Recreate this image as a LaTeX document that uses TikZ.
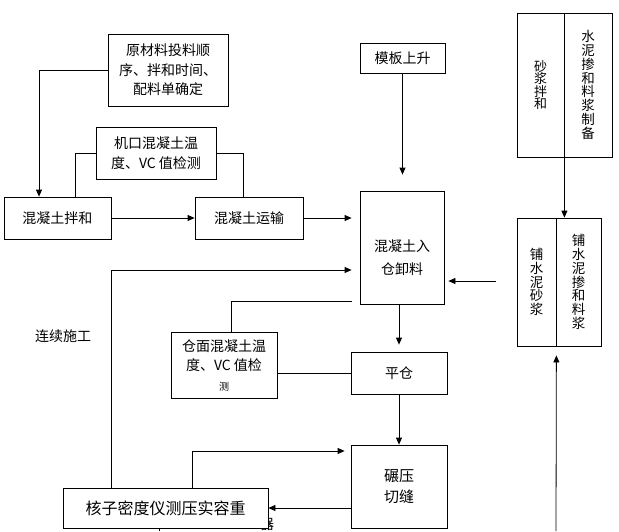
\documentclass[tikz,border=0pt]{standalone}
\usepackage{fontspec}
\setmainfont{Noto Sans CJK SC}
\usetikzlibrary{arrows.meta}

\begin{document}
\begin{tikzpicture}[x=1pt,y=-1pt,line width=0.8pt,>={Triangle[length=7pt,width=6pt]},font=\fontsize{14}{19.5}\selectfont]
    \tikzstyle{box}=[draw,fill=white,rectangle,inner sep=0pt,align=center]
    \tikzstyle{vbox}=[box,font=\fontsize{13.5}{13.75}\selectfont]
    \tikzstyle{annot}=[align=center]

    \useasboundingbox (0,0) rectangle (619,531);

    % Loose text (the cut-off one sits under the density box)
    \node[annot] (cont) at (63,336) {连续施工};
    \node[annot] (frag) at (267,524) {器};

    % Mixing and transport
    \node[box,minimum width=120pt,minimum height=72pt] (raw) at (168,70) {原材料投料顺\\序、拌和时间、\\配料单确定};
    \node[box,minimum width=120pt,minimum height=52pt] (jikou) at (156,153) {机口混凝土温\\度、VC 值检测};
    \node[box,minimum width=107pt,minimum height=42pt] (mix) at (57.5,218) {混凝土拌和};
    \node[box,minimum width=108pt,minimum height=42pt] (trans) at (249,218) {混凝土运输};

    % Placing column
    \node[box,minimum width=85pt,minimum height=30pt] (mold) at (402.5,58) {模板上升};
    \node[box,minimum width=84pt,minimum height=113pt] (pour) at (402,247.5) {};
    \node[annot,font=\fontsize{14}{23}\selectfont] (pourtxt) at (402,258) {混凝土入\\仓卸料};
    \node[box,minimum width=106pt,minimum height=66pt] (cangm) at (224,365) {仓面混凝土温\\度、VC 值检\\{\fontsize{10}{12}\selectfont 测}};
    \node[box,minimum width=96pt,minimum height=42pt] (ping) at (399,373) {平仓};
    \node[box,minimum width=96pt,minimum height=83pt,font=\fontsize{15}{21}\selectfont] (roll) at (399,486.5) {碾压\\切缝};
    \node[box,minimum width=205pt,minimum height=40pt,font=\fontsize{16}{19.5}\selectfont] (nuc) at (165.5,508) {核子密度仪测压实容重};

    % Mortar boxes on the right
    \node[vbox,minimum width=47pt,minimum height=144pt,font={\fontsize{13}{12.4}\selectfont\lineskiplimit=-8pt\relax}] (sand) at (540.5,85) {砂\\浆\\拌\\和};
    \node[vbox,minimum width=48pt,minimum height=144pt] (slurry) at (588,85) {水\\泥\\掺\\和\\料\\浆\\制\\备};
    \node[vbox,minimum width=39pt,minimum height=128pt] (pave1) at (536.5,282) {铺\\水\\泥\\砂\\浆};
    \node[vbox,minimum width=45pt,minimum height=128pt] (pave2) at (578.5,282) {铺\\水\\泥\\掺\\和\\料\\浆};

    \coordinate (feed) at (496,281);
    \coordinate (bottom) at (556,531);
    \coordinate (nucout) at (159,531);

    % Connect mixing to transport
    \draw[->] (raw.west) -| ([xshift=-18.5pt]mix.north);
    \draw (jikou.west) -| ([xshift=17.5pt]mix.north);
    \draw (jikou.east) -| ([xshift=-6pt]trans.north);
    \draw[->] (mix) -- (trans);
    \draw[->,shorten >=8pt] (trans.east) -- (trans.east -| pour.west);

    % Connect the placing column
    \draw[->,shorten >=16pt] (mold.south) -- (mold.south |- pour.north);
    \draw[->,shorten >=7pt] (ping.north |- pour.south) -- (ping.north);
    \draw[->] (ping) -- (roll);
    \draw[shorten >=8pt] ([xshift=7pt]cangm.north) |- ([yshift=-53.5pt]pour.west);
    \draw (ping.west -| cangm.east) -- (ping.west);

    % Loops through the density test
    \draw[->,shorten >=8pt] ([xshift=-54.5pt]nuc.north) |- ([yshift=-22.5pt]pour.west);
    \draw[->,shorten >=6pt] ([xshift=26.5pt]nuc.north) |- ([yshift=35.5pt]roll.west);
    \draw[->] (nuc.east -| roll.west) -- (nuc.east);
    \draw (nuc.south -| nucout) -- (nucout);

    % Mortar feed
    \draw[->] (sand.south east) -- (sand.south east |- pave2.north);
    \draw[->,shorten >=4pt] (feed) -- (feed -| pour.east);
    \draw[->,shorten >=9pt] (bottom) -- (pave1.south east);
\end{tikzpicture}
\end{document}
